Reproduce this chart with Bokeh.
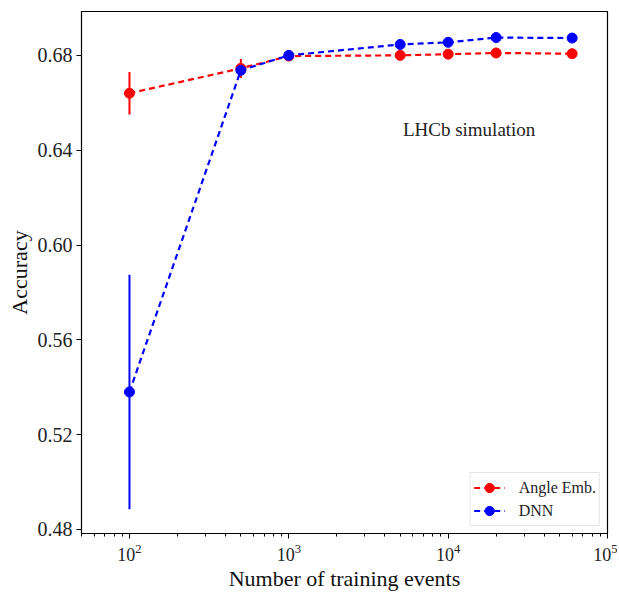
from bokeh.plotting import figure
from bokeh.models import FixedTicker, Legend, LegendItem, Label, Range1d, NumeralTickFormatter
from bokeh.embed import file_html
from bokeh.resources import INLINE

# Data
n_events = [100, 500, 1000, 5000, 10000, 20000, 60000]
angle_acc = [0.664, 0.6745, 0.6797, 0.6800, 0.6805, 0.6810, 0.6807]
angle_err = [0.009, 0.004, 0.001, 0.001, 0.001, 0.001, 0.001]
dnn_acc = [0.538, 0.6737, 0.6800, 0.6846, 0.6855, 0.6875, 0.6873]
dnn_err = [0.0495, 0.001, 0.001, 0.001, 0.001, 0.001, 0.001]
y_ticks = [0.48, 0.52, 0.56, 0.60, 0.64, 0.68]

SERIF = "Liberation Serif"
RED = "#ff0000"
BLUE = "#0000ff"

p = figure(x_axis_type="log", output_backend="svg", toolbar_location=None,
           frame_width=526, frame_height=522,
           x_range=Range1d(50, 100000), y_range=Range1d(0.4783, 0.6985),
           min_border_left=81, min_border_top=11, min_border_right=10,
           min_border_bottom=5)

p.xgrid.visible = False
p.ygrid.visible = False
p.outline_line_color = "black"
p.outline_line_width = 1.2
p.background_fill_color = "white"
p.border_fill_color = "white"

renderers = {}
for name, acc, err, col in [("Angle Emb.", angle_acc, angle_err, RED),
                            ("DNN", dnn_acc, dnn_err, BLUE)]:
    lo = [a - e for a, e in zip(acc, err)]
    hi = [a + e for a, e in zip(acc, err)]
    p.segment(x0=n_events, x1=n_events, y0=lo, y1=hi, line_color=col, line_width=2)
    ln = p.line(n_events, acc, line_color=col, line_width=2.2, line_dash="6 4")
    sc = p.scatter(n_events, acc, marker="circle", size=10, fill_color=col, line_color=col)
    renderers[name] = [ln, sc]

legend = Legend(items=[LegendItem(label=k, renderers=v) for k, v in renderers.items()],
                location="bottom_right")
legend.label_text_font = SERIF
legend.label_text_font_size = "16px"
legend.label_text_color = "#222222"
legend.border_line_color = "#cccccc"
legend.border_line_width = 1
legend.glyph_width = 31
legend.glyph_height = 23
legend.spacing = 0
legend.padding = 3
legend.margin = 7
legend.label_standoff = 14
p.add_layout(legend)

p.add_layout(Label(x=5200, y=0.6488, text="LHCb simulation", text_font=SERIF,
                   text_font_size="19px", text_baseline="middle", text_color="#222222"))

for ax in (p.xaxis[0], p.yaxis[0]):
    ax.axis_label_text_font = SERIF
    ax.axis_label_text_font_style = "normal"
    ax.axis_label_text_font_size = "22px"
    ax.axis_label_text_color = "#111111"
    ax.major_label_text_font = SERIF
    ax.major_label_text_font_size = "20px"
    ax.major_label_text_color = "#222222"
    ax.axis_line_color = "black"
    ax.major_tick_line_color = "black"
    ax.major_tick_out = 5
    ax.major_tick_in = 0

p.xaxis.axis_label = "Number of training events"
p.yaxis.axis_label = "Accuracy"
p.yaxis.ticker = FixedTicker(ticks=y_ticks)
p.yaxis.minor_tick_line_color = None
p.yaxis.formatter = NumeralTickFormatter(format="0.00")
p.yaxis.axis_label_standoff = 3
p.yaxis.major_label_standoff = 4
p.xaxis.ticker.desired_num_ticks = 4
p.xaxis.major_label_text_font_size = "18px"
p.xaxis.minor_tick_out = 3
p.xaxis.minor_tick_in = 0
p.xaxis.minor_tick_line_color = "black"
p.xaxis.axis_label_standoff = 2

open("out.html", "w").write(file_html(p, INLINE))
